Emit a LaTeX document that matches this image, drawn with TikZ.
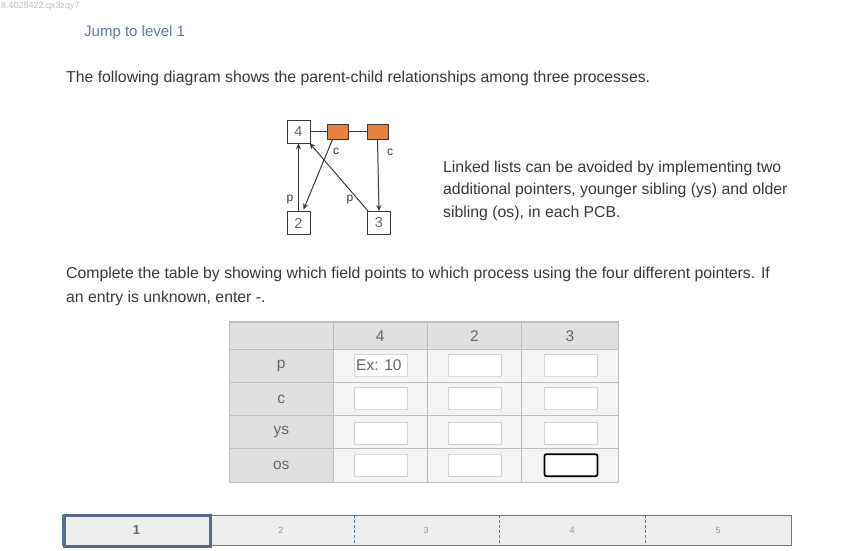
\documentclass[tikz,border=0pt]{standalone}
\usepackage{fontspec}
\setmainfont{Liberation Sans}
\usetikzlibrary{arrows.meta,calc}
\definecolor{txt}{HTML}{3A3A3A}
\definecolor{lite}{HTML}{666666}
\definecolor{jump}{HTML}{5C7BA8}
\definecolor{orng}{HTML}{E8813E}
\definecolor{hdr}{HTML}{E0E0E0}
\definecolor{cellbg}{HTML}{F4F4F4}
\definecolor{grid}{HTML}{BDBDBD}
\definecolor{inbord}{HTML}{CFD8DC}
\definecolor{barbg}{HTML}{EEEEEE}
\definecolor{barbd}{HTML}{5B7BA6}
\definecolor{barsel}{HTML}{546B8C}
\tikzset{
  txtline/.style={anchor=base west,inner sep=0pt,text=txt,font=\fontsize{15.8}{18}\selectfont},
  pcb/.style={draw=txt,line width=0.9pt,fill=white,minimum width=23pt,minimum height=23pt,inner sep=0pt,text=lite,font=\fontsize{14.5}{16}\selectfont},
  obox/.style={draw=txt,line width=0.9pt,fill=orng,minimum width=21pt,minimum height=15pt,inner sep=0pt},
  ptr/.style={draw=txt,line width=1pt,-{Stealth[length=6pt,width=5pt]}},
  lbl/.style={text=txt,inner sep=0pt,font=\fontsize{12}{14}\selectfont},
  cell/.style={text=lite,inner sep=0pt,font=\fontsize{15.5}{18}\selectfont},
  inbox/.style={draw=inbord,line width=0.9pt,fill=white,minimum width=53pt,minimum height=22pt,inner sep=0pt},
  barnum/.style={text=lite!70,inner sep=0pt,font=\fontsize{9}{11}\selectfont}
}
\begin{document}
\begin{tikzpicture}[x=1pt,y=-1pt]
\useasboundingbox[fill=white] (0,0) rectangle (844,550);
\node[anchor=base west,inner sep=0pt,text=black!25,font=\fontsize{9}{11}\selectfont] (idtxt) at (1,8) {8.4028422.qx3zqy7};
\node[txtline,text=jump,font=\fontsize{15}{18}\selectfont] (jump) at (84,36) {Jump to level 1};
\node[txtline] (intro) at (66,82) {The following diagram shows the parent-child relationships among three processes.};

% diagram
\node[pcb] (b4) at (298.5,131.5) {4};
\node[obox] (o1) at (337.5,131.5) {};
\node[obox] (o2) at (377.5,131.5) {};
\node[pcb] (b2) at (298.5,223) {2};
\node[pcb] (b3) at (379,223) {3};
\draw[txt,line width=1.1pt] (b4.east) -- (o1.west);
\draw[txt,line width=1.1pt] (o1.east) -- (o2.west);
\draw[ptr] (b2.north) -- (b4.south);
\draw[ptr] ($(o1.south)+(-5,0)$) -- ($(b2.north)+(5,-1.5)$);
\draw[ptr] ($(b3.north west)+(1,0)$) -- ($(b4.south east)+(-1,-0.5)$);
\draw[ptr] (o2.south) -- (b3.north);
\node[lbl] (lp1) at (290,200) {p};
\node[lbl] (lc1) at (336,151) {c};
\node[lbl] (lp2) at (350,200) {p};
\node[lbl] (lc2) at (390,152) {c};

\node[txtline] (r1) at (443,172) {Linked lists can be avoided by implementing two};
\node[txtline] (r2) at (443,194.5) {additional pointers, younger sibling (ys) and older};
\node[txtline] (r3) at (443,217) {sibling (os), in each PCB.};

\node[txtline] (q1) at (66,278) {Complete the table by showing which field points to which process using the four different pointers. If};
\node[txtline] (q2) at (66,302) {an entry is unknown, enter -.};

% table
\fill[cellbg] (229.3,321.7) rectangle (618.3,482.3);
\fill[hdr] (229.3,321.7) rectangle (618.3,349.3);
\fill[hdr] (229.3,321.7) rectangle (333.3,482.3);
\foreach \x in {333.3,427.3,521.7} \draw[grid,line width=1pt] (\x,321.7) -- (\x,482.3);
\foreach \y in {349.3,382.3,415.7,448.3} \draw[grid,line width=1pt] (229.3,\y) -- (618.3,\y);
\draw[grid,line width=1.6pt] (229.3,321.7) rectangle (618.3,482.3);
\node[cell] (h4) at (380.3,336) {4};
\node[cell] (h2) at (474.5,336) {2};
\node[cell] (h3) at (570,336) {3};
\node[cell] (rp) at (281.3,366) {p};
\node[cell] (rc) at (281.3,399) {c};
\node[cell] (rys) at (281.3,432) {ys};
\node[cell] (ros) at (281.3,465) {os};
\foreach \cx/\cn in {381/a,475/b,571/c}{
  \foreach \ry/\rn in {365.5/p,398.5/c,433/y}{
    \node[inbox] (in\cn\rn) at (\cx,\ry) {};
  }
}
\node[inbox] (inao) at (381,465.2) {};
\node[inbox] (inbo) at (475,465.2) {};
\node[draw=black,line width=1.8pt,fill=white,rounded corners=2pt,minimum width=53pt,minimum height=22pt,inner sep=0pt] (inco) at (571,465.2) {};
\node[anchor=west,inner sep=0pt,text=lite,font=\fontsize{15.5}{18}\selectfont] (ex) at (356,365.5) {Ex: 10};

% bottom bar
\fill[barbg] (62.3,515) rectangle (791.7,545.7);
\draw[barbd,line width=0.8pt] (62.3,515) rectangle (791.7,545.7);
\foreach \x in {354.3,499.3,645.3} \draw[barbd,line width=0.8pt,dash pattern=on 3pt off 2pt] (\x,515) -- (\x,545.7);
\draw[barsel,line width=3pt] (64,515.5) rectangle (210.5,546);
\node[inner sep=0pt,text=lite,font=\bfseries\fontsize{13}{15}\selectfont] (s1) at (136.5,530.5) {1};
\node[barnum] (s2) at (281,530.5) {2};
\node[barnum] (s3) at (426,530.5) {3};
\node[barnum] (s4) at (572,530.5) {4};
\node[barnum] (s5) at (718,530.5) {5};
\end{tikzpicture}
\end{document}
